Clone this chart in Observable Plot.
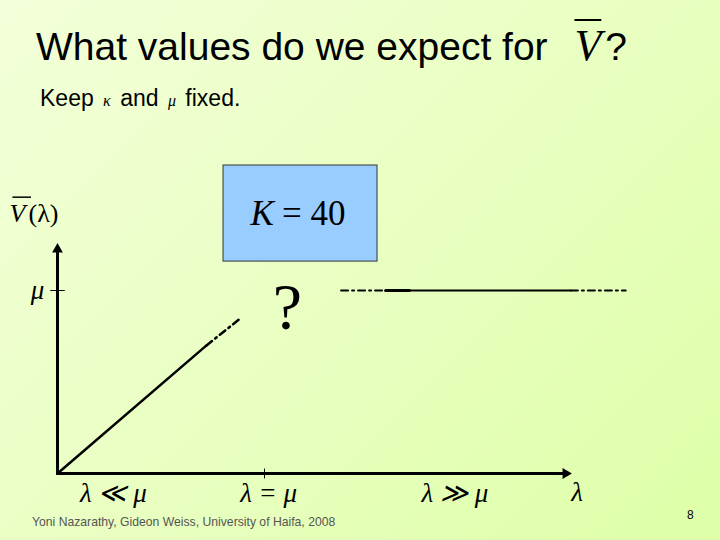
<!DOCTYPE html>
<html>
<head>
<meta charset="utf-8">
<script src="https://cdn.jsdelivr.net/npm/d3@7"></script>
<script src="https://cdn.jsdelivr.net/npm/@observablehq/plot@0.6"></script>
<style>
  html, body { margin: 0; padding: 0; }
  #slide {
    position: relative; width: 720px; height: 540px; overflow: hidden;
    background: linear-gradient(135deg, #f3ffd9 0%, #eaffc4 45%, #deffa8 100%);
    font-family: "Liberation Sans", Arial, sans-serif;
  }
  #title {
    position: absolute; left: 36px; top: 23px; font-size: 39px; line-height: 46px;
    white-space: nowrap; color: #000;
  }
  #title .vbar {
    font-family: "Liberation Serif", serif; font-style: italic; font-size: 44px;
    text-decoration: overline; text-decoration-thickness: 2px; padding-left: 16px; padding-right: 4px;
  }
  #sub {
    position: absolute; left: 40px; top: 84px; font-size: 23px; line-height: 28px;
    white-space: nowrap; color: #000;
  }
  #sub .m { font-family: "Liberation Serif", serif; font-style: italic; font-size: 16px; padding: 0 3px; }
  #chart { position: absolute; left: 0; top: 0; }
  #foot {
    position: absolute; left: 32px; top: 515px; font-size: 12.2px; color: #555; white-space: nowrap;
  }
  #page { position: absolute; left: 687px; top: 508px; font-size: 12px; color: #000; }
</style>
</head>
<body>
<div id="slide">
  <div id="title"></div>
  <div id="sub"></div>
  <div id="chart"></div>
  <div id="foot"></div>
  <div id="page"></div>
</div>
<script>
// ---- text ----
const titleText = "What values do we expect for ";
const titleSymbol = "V";
const footerText = "Yoni Nazarathy, Gideon Weiss, University of Haifa, 2008";
const pageNumber = "8";
const Kvalue = 40;

// ---- data (λ and V in units of μ = 1) ----
const yAxisLine = [{lambda: 0, V: 0}, {lambda: 0, V: 1.22}];
const xAxisLine = [{lambda: 0, V: 0}, {lambda: 2.45, V: 0}];
const axisTips = [{lambda: 0, V: 1.225, rot: 0}, {lambda: 2.455, V: 0, rot: 90}];
const lowSolid = [{lambda: 0, V: 0}, {lambda: 0.72, V: 0.70}];
const lowDash = [{lambda: 0.72, V: 0.70}, {lambda: 0.875, V: 0.84}];
const highDashLeft = [{lambda: 1.37, V: 1}, {lambda: 1.585, V: 1}];
const highThick = [{lambda: 1.585, V: 1}, {lambda: 1.70, V: 1}];
const highSolid = [{lambda: 1.70, V: 1}, {lambda: 2.48, V: 1}];
const highDashRight = [{lambda: 2.48, V: 1}, {lambda: 2.745, V: 1}];
const ticks = [
  {x1: -0.035, x2: 0.035, y1: 1, y2: 1},
  {x1: 1, x2: 1, y1: -0.027, y2: 0.027}
];
const kBox = [{x1: 0.802, x2: 1.546, y1: 1.158, y2: 1.683}];
const kLabelK = [{lambda: 1.045, V: 1.42, text: "K"}];
const kLabelVal = [{lambda: 1.085, V: 1.42, text: "= " + Kvalue}];
const question = [{lambda: 1.11, V: 0.905, text: "?"}];
const xLabels = [
  {lambda: 0.27, V: -0.11, text: "λ ≪ μ"},
  {lambda: 1.02, V: -0.11, text: "λ = μ"},
  {lambda: 1.92, V: -0.11, text: "λ ≫ μ"},
  {lambda: 2.51, V: -0.105, text: "λ"}
];
const yLabels = [{lambda: -0.097, V: 1.0, text: "μ"}];
const yTitleV = [{lambda: -0.232, V: 1.42, text: "V"}];
const yTitleArg = [{lambda: -0.14, V: 1.42, text: "(λ)"}];
const yTitleBar = [{x1: -0.218, x2: -0.128, y1: 1.51, y2: 1.51}];

// ---- html text ----
document.getElementById("title").innerHTML =
  titleText + '<span class="vbar">' + titleSymbol + '</span>?';
document.getElementById("sub").innerHTML =
  'Keep <span class="m">κ</span> and <span class="m">μ</span> fixed.';
document.getElementById("foot").textContent = footerText;
document.getElementById("page").textContent = pageNumber;

const serif = "Liberation Serif, Times New Roman, serif";

const chart = Plot.plot({
  width: 720,
  height: 540,
  margin: 0,
  x: {type: "linear", domain: [0, 1], range: [57, 264], axis: null},
  y: {type: "linear", domain: [0, 1], range: [473, 290], axis: null},
  style: {background: "transparent", overflow: "visible"},
  marks: [
    Plot.rect(kBox, {x1: "x1", x2: "x2", y1: "y1", y2: "y2", fill: "#99ccff", stroke: "#333", strokeWidth: 1}),
    Plot.text(kLabelK, {x: "lambda", y: "V", text: "text", textAnchor: "end", fontFamily: serif, fontStyle: "italic", fontSize: 35, fill: "black"}),
    Plot.text(kLabelVal, {x: "lambda", y: "V", text: "text", textAnchor: "start", fontFamily: serif, fontSize: 35, fill: "black"}),
    Plot.line(yAxisLine, {x: "lambda", y: "V", stroke: "black", strokeWidth: 3}),
    Plot.line(xAxisLine, {x: "lambda", y: "V", stroke: "black", strokeWidth: 3}),
    Plot.dot(axisTips, {x: "lambda", y: "V", symbol: "triangle", rotate: "rot", r: 4, fill: "black", stroke: null}),
    Plot.link(ticks, {x1: "x1", x2: "x2", y1: "y1", y2: "y2", stroke: "black", strokeWidth: 1}),
    Plot.line(lowSolid, {x: "lambda", y: "V", stroke: "black", strokeWidth: 2.5}),
    Plot.line(lowDash, {x: "lambda", y: "V", stroke: "black", strokeWidth: 2.5, strokeDasharray: "7,4,2,4"}),
    Plot.line(highDashLeft, {x: "lambda", y: "V", stroke: "black", strokeWidth: 2, strokeDasharray: "7,4,2,4"}),
    Plot.line(highThick, {x: "lambda", y: "V", stroke: "black", strokeWidth: 3}),
    Plot.line(highSolid, {x: "lambda", y: "V", stroke: "black", strokeWidth: 2}),
    Plot.line(highDashRight, {x: "lambda", y: "V", stroke: "black", strokeWidth: 2, strokeDasharray: "7,4,2,4"}),
    Plot.text(question, {x: "lambda", y: "V", text: "text", fontFamily: serif, fontSize: 66, fill: "black"}),
    Plot.text(xLabels, {x: "lambda", y: "V", text: "text", fontFamily: serif, fontStyle: "italic", fontSize: 27, fill: "black"}),
    Plot.text(yLabels, {x: "lambda", y: "V", text: "text", fontFamily: serif, fontStyle: "italic", fontSize: 27, fill: "black"}),
    Plot.text(yTitleV, {x: "lambda", y: "V", text: "text", textAnchor: "start", fontFamily: serif, fontStyle: "italic", fontSize: 26, fill: "black"}),
    Plot.text(yTitleArg, {x: "lambda", y: "V", text: "text", textAnchor: "start", fontFamily: serif, fontSize: 26, fill: "black"}),
    Plot.link(yTitleBar, {x1: "x1", x2: "x2", y1: "y1", y2: "y2", stroke: "black", strokeWidth: 1.5})
  ]
});
document.getElementById("chart").appendChild(chart);
</script>
</body>
</html>
